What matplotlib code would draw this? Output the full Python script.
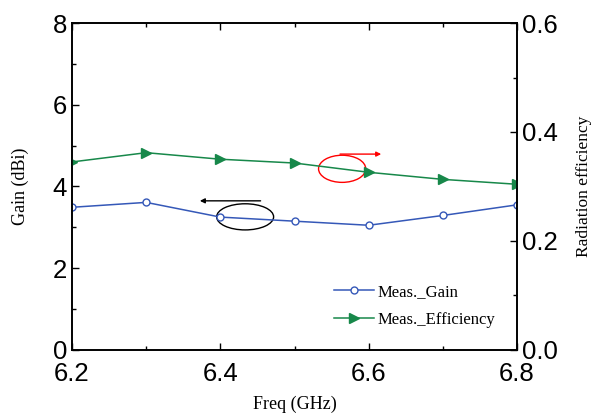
import matplotlib.pyplot as plt
from matplotlib.patches import Ellipse
from matplotlib.ticker import MultipleLocator

freq = [6.2, 6.3, 6.4, 6.5, 6.6, 6.7, 6.8]
gain = [3.49, 3.61, 3.25, 3.15, 3.05, 3.29, 3.55]
eff = [0.345, 0.362, 0.350, 0.343, 0.326, 0.313, 0.304]

blue = "#3558b8"
green = "#17884a"
serif = "Liberation Serif"
sans = "Liberation Sans"

fig = plt.figure(figsize=(5.95, 4.19), dpi=100)
ax = fig.add_axes([0.121, 0.165, 0.748, 0.780])
ax2 = ax.twinx()

l1, = ax.plot(freq, gain, color=blue, lw=1.1, marker="o", ms=5,
              mfc="white", mec=blue, mew=1.0, label="Meas._Gain")
l2, = ax2.plot(freq, eff, color=green, lw=1.1, marker=">", ms=7,
               mfc=green, mec=green, label="Meas._Efficiency")

ax.set_xlim(6.2, 6.8)
ax.set_ylim(0, 8)
ax2.set_ylim(0, 0.6)
ax.xaxis.set_major_locator(MultipleLocator(0.2))
ax.xaxis.set_minor_locator(MultipleLocator(0.1))
ax.yaxis.set_major_locator(MultipleLocator(2))
ax.yaxis.set_minor_locator(MultipleLocator(1))
ax2.yaxis.set_major_locator(MultipleLocator(0.2))
ax2.yaxis.set_minor_locator(MultipleLocator(0.1))
ax.set_xticks([6.2, 6.4, 6.6, 6.8])
ax.set_xticklabels(["6.2", "6.4", "6.6", "6.8"])
ax2.set_yticks([0, 0.2, 0.4, 0.6])
ax2.set_yticklabels(["0.0", "0.2", "0.4", "0.6"])

ax.tick_params(which="both", direction="in", top=True, right=False,
               labelsize=18.5, width=1.0)
ax.tick_params(which="major", length=5)
ax.tick_params(which="minor", length=3)
ax.tick_params(axis="x", pad=9)
ax2.tick_params(which="both", direction="in", labelsize=18.5, width=1.0)
ax2.tick_params(which="major", length=5)
ax2.tick_params(which="minor", length=3)
for a in (ax, ax2):
    for lab in a.get_xticklabels() + a.get_yticklabels():
        lab.set_fontfamily(sans)
    for s in a.spines.values():
        s.set_linewidth(1.2)

ax.set_xlabel("Freq (GHz)", fontsize=13, family=serif, labelpad=7)
ax.set_ylabel("Gain (dBi)", fontsize=13, family=serif, labelpad=17)
ax2.set_ylabel("Radiation efficiency", fontsize=12.5, family=serif, labelpad=13)

# annotation ellipses and arrows
ax.add_patch(Ellipse((0.389, 0.407), 0.128, 0.08, transform=ax.transAxes,
                     fill=False, ec="black", lw=1.0))
ax.annotate("", xy=(0.281, 0.456), xytext=(0.430, 0.456), xycoords="axes fraction",
            arrowprops=dict(arrowstyle="-|>", color="black", lw=1.0, mutation_scale=7))
ax.add_patch(Ellipse((0.607, 0.554), 0.106, 0.083, transform=ax.transAxes,
                     fill=False, ec="red", lw=1.0))
ax.annotate("", xy=(0.701, 0.599), xytext=(0.596, 0.599), xycoords="axes fraction",
            arrowprops=dict(arrowstyle="-|>", color="red", lw=1.0, mutation_scale=7))

ax.legend([l1, l2], ["Meas._Gain", "Meas._Efficiency"], loc="lower right",
          bbox_to_anchor=(0.985, 0.02), frameon=False,
          prop={"family": serif, "size": 12}, handlelength=2.4,
          handletextpad=0.2, labelspacing=0.75)

fig.savefig("out.png", dpi=100)
